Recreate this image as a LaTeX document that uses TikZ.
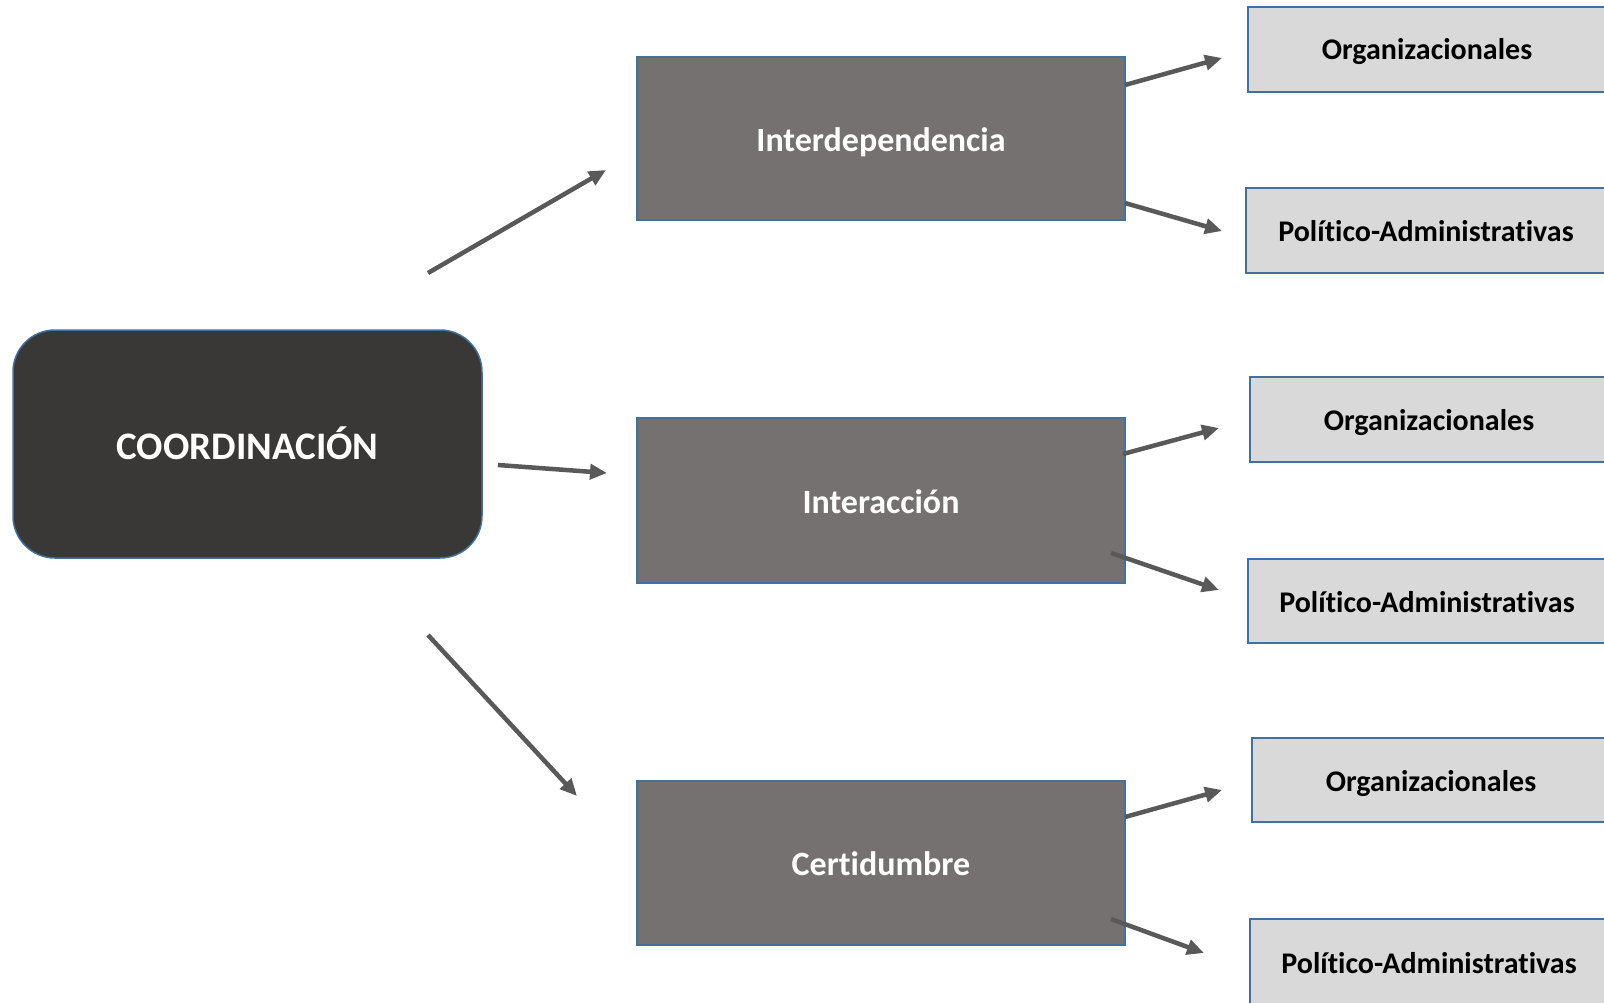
\documentclass[tikz,border=0pt]{standalone}
\usepackage{fontspec}
\setmainfont[Ligatures={NoCommon}]{Carlito}
\usetikzlibrary{arrows.meta}
\definecolor{edgeblue}{HTML}{41719C}
\definecolor{rootfill}{HTML}{3A3837}
\definecolor{midfill}{HTML}{767171}
\definecolor{leaffill}{HTML}{D9D9D9}
\definecolor{arrowgray}{HTML}{595959}
\begin{document}
\begin{tikzpicture}[x=1pt,y=-1pt,
  rootbox/.style={draw=edgeblue,line width=1.5pt,fill=rootfill,rounded corners=42pt},
  midbox/.style={draw=edgeblue,line width=1.5pt,fill=midfill},
  leafbox/.style={draw=edgeblue,line width=1.5pt,fill=leaffill},
  roottext/.style={text=white,font=\bfseries\fontsize{39}{44}\selectfont},
  midtext/.style={text=white,font=\bfseries\fontsize{34}{40}\selectfont},
  leaftext/.style={text=black,font=\bfseries\fontsize{30}{36}\selectfont},
  link/.style={draw=arrowgray,line width=4.5pt,
    -{Triangle[length=17pt,width=15pt]}}
]
\useasboundingbox (0,0) rectangle (1604,1003);
\clip (0,0) rectangle (1604,1003);

% root
\path[rootbox] (13,330) rectangle (482,558);
\node[roottext] (root) at (247.5,443) {COORDINACIÓN};

% middle level
\path[midbox] (637,57) rectangle (1125,220);
\node[midtext] (inter) at (881,142) {Interdependencia};
\path[midbox] (637,418) rectangle (1125,583);
\node[midtext] (iacc) at (881,502) {Interacción};
\path[midbox] (637,781) rectangle (1125,945);
\node[midtext] (cert) at (881,864) {Certidumbre};

% leaves
\path[leafbox] (1248,7) rectangle (1610,92);
\node[leaftext] (o1) at (1427,52) {Organizacionales};
\path[leafbox] (1246,188) rectangle (1610,273);
\node[leaftext] (p1) at (1426,231) {Político-Administrativas};
\path[leafbox] (1250,377) rectangle (1610,462);
\node[leaftext] (o2) at (1429,423) {Organizacionales};
\path[leafbox] (1248,559) rectangle (1610,643);
\node[leaftext] (p2) at (1427,602) {Político-Administrativas};
\path[leafbox] (1252,738) rectangle (1610,822);
\node[leaftext] (o3) at (1431,784) {Organizacionales};
\path[leafbox] (1250,919) rectangle (1610,1004);
\node[leaftext] (p3) at (1429,963) {Político-Administrativas};

% arrow end points
\coordinate (a1s) at (428,273);  \coordinate (a1e) at (606,170);
\coordinate (a2s) at (498,465);  \coordinate (a2e) at (607,473);
\coordinate (a3s) at (428,635);  \coordinate (a3e) at (577,796);
\coordinate (b1s) at (1125,85);  \coordinate (b1e) at (1222,58);
\coordinate (b2s) at (1125,203); \coordinate (b2e) at (1222,231);
\coordinate (b3s) at (1123,454); \coordinate (b3e) at (1219,428);
\coordinate (b4s) at (1111,553); \coordinate (b4e) at (1219,590);
\coordinate (b5s) at (1125,817); \coordinate (b5e) at (1222,790);
\coordinate (b6s) at (1111,919); \coordinate (b6e) at (1204,953);

\foreach \s/\e in {a1s/a1e,a2s/a2e,a3s/a3e,b1s/b1e,b2s/b2e,b3s/b3e,b4s/b4e,b5s/b5e,b6s/b6e}
  \draw[link] (\s) -- (\e);
\end{tikzpicture}
\end{document}
